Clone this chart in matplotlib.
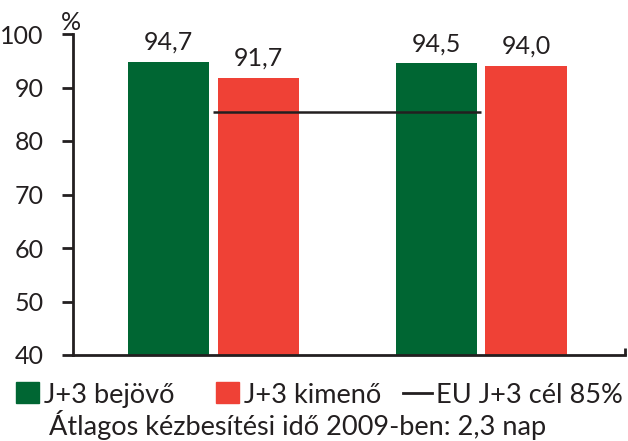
import matplotlib.pyplot as plt
import numpy as np

plt.rcParams['font.family'] = ['Lato', 'DejaVu Sans']

bejovo = [94.7, 94.5]
kimeno = [91.7, 94.0]
eu_cel = 85.5
yticks = [40, 50, 60, 70, 80, 90, 100]

green = '#006633'
red = '#ef4136'
dark = '#231f20'

W, H = 628, 441
fig = plt.figure(figsize=(6.28, 4.41), dpi=100)
ax = fig.add_axes([73 / W, 1 - 355 / H, 552 / W, 321 / H])

x = np.arange(len(bejovo))
w = 0.303
off = 0.168
b1 = ax.bar(x - off, bejovo, w, color=green)
b2 = ax.bar(x + off, kimeno, w, color=red)

def fmt(v):
    return ('%.1f' % v).replace('.', ',')

for bars, vals in ((b1, bejovo), (b2, kimeno)):
    for r, v in zip(bars, vals):
        ax.annotate(fmt(v), (r.get_x() + r.get_width() / 2, v),
                    xytext=(0, 6), textcoords='offset points',
                    ha='center', va='bottom', fontsize=18, color=dark)

ax.hlines(eu_cel, x[0], x[1], color=dark, lw=1.8, zorder=3)

ax.set_ylim(40, 100)
ax.set_xlim(-0.525, 1.538)
ax.set_yticks(yticks)
ax.set_yticklabels([str(t) for t in yticks], fontsize=18, color=dark)
ax.tick_params(axis='y', length=8, width=2, color=dark, pad=13)
ax.set_xticks([1.538])
ax.set_xticklabels([''])
ax.tick_params(axis='x', direction='in', length=5, width=2, color=dark)
for s in ('top', 'right'):
    ax.spines[s].set_visible(False)
for s in ('left', 'bottom'):
    ax.spines[s].set_linewidth(2)
    ax.spines[s].set_color(dark)

fig.text(61 / W, 1 - 30 / H, '%', fontsize=18, color=dark, ha='left', va='baseline')

# legend
base = 1 - 403 / H
fig.patches.append(plt.Rectangle((16 / W, 1 - 403 / H), 23 / W, 21 / H,
                                 transform=fig.transFigure, color=green))
fig.text(44 / W, base, 'J+3 bejövő', fontsize=19.5, color=dark, va='baseline')
fig.patches.append(plt.Rectangle((216 / W, 1 - 403 / H), 23 / W, 21 / H,
                                 transform=fig.transFigure, color=red))
fig.text(244 / W, base, 'J+3 kimenő', fontsize=19.5, color=dark, va='baseline')
fig.lines.append(plt.Line2D([403 / W, 432 / W], [1 - 393 / H] * 2,
                            transform=fig.transFigure, color=dark, lw=2))
fig.text(436 / W, base, 'EU J+3 cél 85%', fontsize=19.5, color=dark, va='baseline')
fig.text(49 / W, 1 - 435 / H, 'Átlagos kézbesítési idő 2009-ben: 2,3 nap',
         fontsize=19.5, color=dark, va='baseline')

fig.savefig('out.png', dpi=100)
